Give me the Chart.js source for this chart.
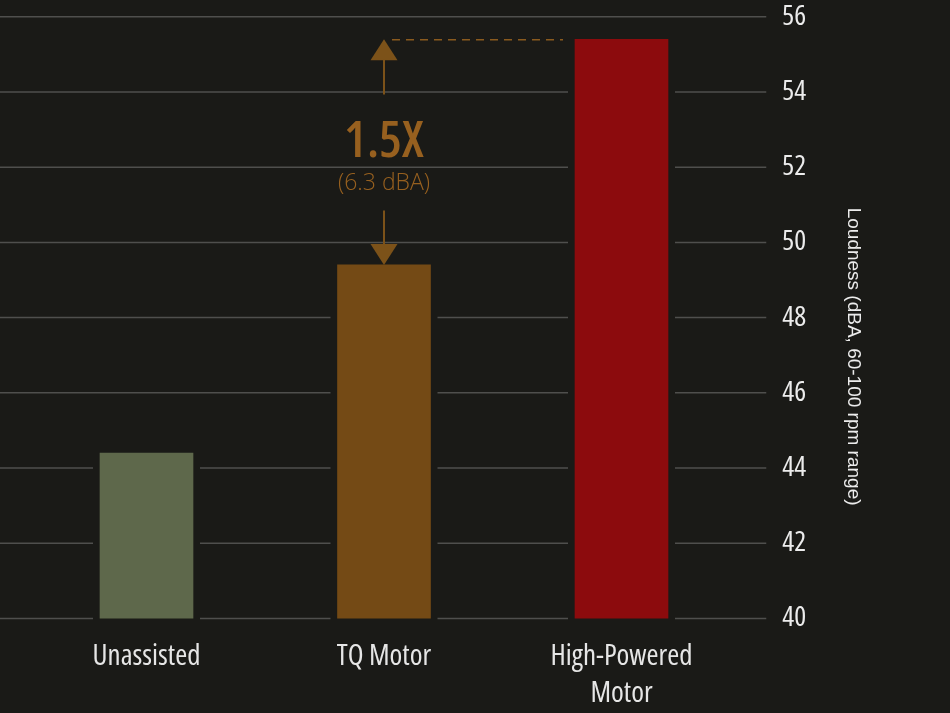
<!DOCTYPE html>
<html>
<head>
<meta charset="utf-8">
<script src="https://cdn.jsdelivr.net/npm/chart.js@4.4.1/dist/chart.umd.min.js"></script>
<style>
  html, body { margin: 0; padding: 0; background: #1a1a17; }
  #wrap { width: 950px; height: 713px; }
</style>
</head>
<body>
<div id="wrap"><canvas id="loudChart"></canvas></div>
<script>
const categories = ["Unassisted", "TQ Motor", ["High-Powered", "Motor"]];
const loudness = [44.4, 49.4, 55.4];
const barColors = ["#5e684b", "#744a15", "#8c0b0d"];
const yTicks = [40, 42, 44, 46, 48, 50, 52, 54, 56];
const axisTitle = "Loudness (dBA, 60-100 rpm range)";
const ratioLabel = "1.5X";
const diffLabel = "(6.3 dBA)";

const NARROW = "'Open Sans', 'Liberation Sans Narrow', 'DejaVu Sans Condensed', sans-serif";
const DIFF_FONT = "300 23px " + NARROW;
const ANNOT = "#7c5219";
const ANNOT_TEXT = "#97601f";

// where the annotation text sits, relative to the two arrow tips
function annotGeom(chart) {
    const meta = chart.getDatasetMeta(0);
    const tq = meta.data[1], hp = meta.data[2];
    const mid = (hp.y + tq.y) / 2;
    return { tq, hp, ax: tq.x, upTip: hp.y, downTip: tq.y, mid, ratioY: mid - 10, diffY: mid + 31.5 };
}

// gridlines with gaps around bars and the annotation text
const gapGrid = {
    id: "gapGrid",
    beforeDatasetsDraw(chart) {
        const { ctx, chartArea, scales } = chart;
        const bars = chart.getDatasetMeta(0).data;
        const g = annotGeom(chart);
        ctx.save();
        ctx.font = DIFF_FONT;
        const halfText = ctx.measureText(diffLabel).width / 2 + 10;
        ctx.strokeStyle = "#4f4f4d";
        ctx.lineWidth = 1.5;
        yTicks.forEach(v => {
            const y = scales.y.getPixelForValue(v);
            const gaps = [];
            bars.forEach(b => {
                if (b.y < y - 1) gaps.push([b.x - b.width / 2 - 7, b.x + b.width / 2 + 7]);
            });
            if (Math.abs(y - g.diffY) < 16) gaps.push([g.ax - halfText, g.ax + halfText]);
            gaps.sort((a, b) => a[0] - b[0]);
            let x = 0;
            const xEnd = chartArea.right + 26;
            ctx.beginPath();
            gaps.forEach(gp => {
                ctx.moveTo(x, y); ctx.lineTo(gp[0], y);
                x = gp[1];
            });
            ctx.moveTo(x, y); ctx.lineTo(xEnd, y);
            ctx.stroke();
        });
        ctx.restore();
    }
};

// arrows, dashed guide and the 1.5X label
const annotation = {
    id: "annotation",
    afterDatasetsDraw(chart) {
        const { ctx } = chart;
        const g = annotGeom(chart);
        ctx.save();
        ctx.strokeStyle = ANNOT;
        ctx.fillStyle = ANNOT;
        ctx.lineWidth = 2;
        // up arrow
        ctx.beginPath();
        ctx.moveTo(g.ax, g.upTip);
        ctx.lineTo(g.ax - 13.5, g.upTip + 21);
        ctx.lineTo(g.ax + 13.5, g.upTip + 21);
        ctx.closePath();
        ctx.fill();
        ctx.beginPath();
        ctx.moveTo(g.ax, g.upTip + 20);
        ctx.lineTo(g.ax, g.mid - 57.5);
        ctx.stroke();
        // down arrow
        ctx.beginPath();
        ctx.moveTo(g.ax, g.mid + 58.5);
        ctx.lineTo(g.ax, g.downTip - 20);
        ctx.stroke();
        ctx.beginPath();
        ctx.moveTo(g.ax, g.downTip);
        ctx.lineTo(g.ax - 13.5, g.downTip - 21);
        ctx.lineTo(g.ax + 13.5, g.downTip - 21);
        ctx.closePath();
        ctx.fill();
        // dashed guide to the tall bar
        ctx.strokeStyle = "#8a5a1e";
        ctx.lineWidth = 1.5;
        ctx.setLineDash([8, 6]);
        ctx.beginPath();
        ctx.moveTo(g.ax + 8, g.upTip + 0.5);
        ctx.lineTo(g.hp.x - g.hp.width / 2 - 12, g.upTip + 0.5);
        ctx.stroke();
        ctx.setLineDash([]);
        // labels
        ctx.fillStyle = ANNOT_TEXT;
        ctx.textAlign = "center";
        ctx.textBaseline = "middle";
        ctx.font = "condensed 600 51px " + NARROW;
        ctx.fillText(ratioLabel, g.ax, g.ratioY);
        ctx.font = DIFF_FONT;
        ctx.fillText(diffLabel, g.ax, g.diffY);
        ctx.restore();
    }
};

// rotated axis title on the right
const sideTitle = {
    id: "sideTitle",
    afterDraw(chart) {
        const { ctx, chartArea } = chart;
        ctx.save();
        ctx.translate(chartArea.right + 113, (chartArea.top + chartArea.bottom) / 2 + 39);
        ctx.rotate(Math.PI / 2);
        ctx.fillStyle = "#ececec";
        ctx.font = "19px 'Liberation Sans', Arial, sans-serif";
        ctx.textAlign = "center";
        ctx.textBaseline = "middle";
        ctx.fillText(axisTitle, 0, 0);
        ctx.restore();
    }
};

const ctx = document.getElementById("loudChart").getContext("2d");

new Chart(ctx, {
    type: "bar",
    data: {
        labels: categories,
        datasets: [{
            data: loudness,
            backgroundColor: barColors,
            borderWidth: 0,
            barThickness: 93
        }]
    },
    options: {
        responsive: true,
        maintainAspectRatio: false,
        animation: false,
        layout: { padding: { top: 16.7, left: 27.75, right: 0, bottom: 0 } },
        scales: {
            x: {
                grid: { display: false, drawTicks: false },
                border: { display: false },
                ticks: {
                    color: "#e6e6e6",
                    font: { size: 29, family: NARROW, weight: "condensed", lineHeight: 1.27 },
                    padding: 20,
                    maxRotation: 0,
                    autoSkip: false
                },
                afterFit(scale) { scale.height = 94.5; scale.paddingLeft = 0; scale.paddingRight = 0; }
            },
            y: {
                position: "right",
                min: 40,
                max: 56,
                grid: { display: false, drawTicks: false },
                border: { display: false },
                ticks: {
                    stepSize: 2,
                    color: "#ececec",
                    font: { size: 28, family: NARROW, weight: "condensed" },
                    padding: 42
                },
                afterBuildTicks(scale) { scale.ticks = yTicks.map(v => ({ value: v })); },
                afterFit(scale) { scale.width = 209.75; scale.paddingTop = 0; scale.paddingBottom = 0; }
            }
        },
        plugins: {
            legend: { display: false },
            tooltip: { enabled: false }
        }
    },
    plugins: [gapGrid, annotation, sideTitle]
});
</script>
</body>
</html>
